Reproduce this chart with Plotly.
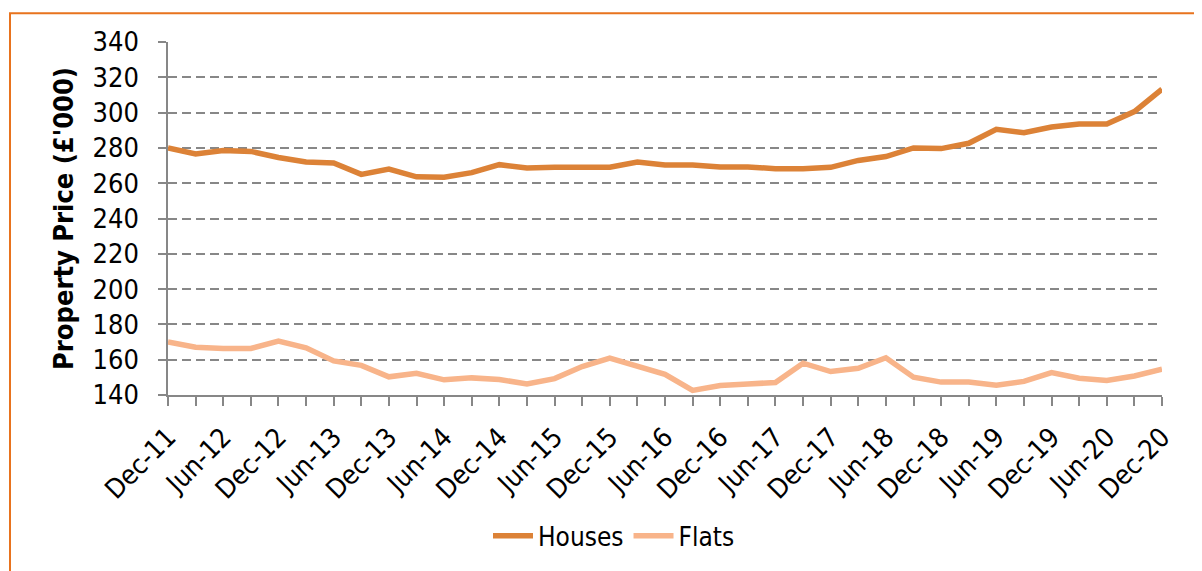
import plotly.graph_objects as go

quarters = ["Dec-11", "Mar-12", "Jun-12", "Sep-12", "Dec-12", "Mar-13", "Jun-13", "Sep-13",
            "Dec-13", "Mar-14", "Jun-14", "Sep-14", "Dec-14", "Mar-15", "Jun-15", "Sep-15",
            "Dec-15", "Mar-16", "Jun-16", "Sep-16", "Dec-16", "Mar-17", "Jun-17", "Sep-17",
            "Dec-17", "Mar-18", "Jun-18", "Sep-18", "Dec-18", "Mar-19", "Jun-19", "Sep-19",
            "Dec-19", "Mar-20", "Jun-20", "Sep-20", "Dec-20"]

houses = [280.0, 276.6, 278.5, 278.0, 274.6, 272.0, 271.5, 265.0, 268.0, 263.6,
          263.4, 266.0, 270.5, 268.6, 269.0, 269.0, 269.0, 272.0, 270.3, 270.3,
          269.2, 269.2, 268.2, 268.2, 269.0, 272.9, 275.1, 280.0, 279.6, 282.6,
          290.5, 288.6, 291.8, 293.6, 293.5, 300.6, 313.3]

flats = [170.1, 167.1, 166.4, 166.4, 170.5, 166.7, 159.3, 156.8, 150.3, 152.3,
         148.6, 149.7, 148.8, 146.2, 149.3, 156.1, 160.9, 156.6, 151.7, 142.6,
         145.4, 146.2, 147.1, 158.0, 153.3, 155.1, 161.1, 150.1, 147.3, 147.3,
         145.6, 147.7, 152.7, 149.5, 148.2, 150.8, 154.6]

y_ticks = [140, 160, 180, 200, 220, 240, 260, 280, 300, 320, 340]

idx = list(range(len(quarters)))
label_idx = idx[::2]
label_text = quarters[::2]

FONT = "DejaVu Sans Condensed, DejaVu Sans, Verdana, sans-serif"
GRAY = "#878787"

fig = go.Figure()
fig.add_trace(go.Scatter(x=idx, y=houses, name="Houses", mode="lines",
                         line=dict(color="#DC8237", width=5.5)))
fig.add_trace(go.Scatter(x=idx, y=flats, name="Flats", mode="lines",
                         line=dict(color="#F8B48A", width=5.5)))

# page body has an 8px margin; figure origin is at (8, 8) in the screenshot
OFF = 8
W, H = 1202 - OFF, 571 - OFF
L, T = 168 - OFF, 42 - OFF
pw, ph = 994, 356
R, B = W - L - pw, H - T - ph

fig.update_layout(
    width=W, height=H,
    margin=dict(l=L, r=R, t=T, b=B, pad=0),
    paper_bgcolor="white", plot_bgcolor="white",
    font=dict(family=FONT, size=27, color="black"),
    showlegend=True,
    legend=dict(orientation="h", x=(614 - OFF - L) / pw, xanchor="center",
                y=(T + ph - (540 - OFF)) / ph, yanchor="middle",
                font=dict(size=26), itemwidth=40, tracegroupgap=0),
    xaxis=dict(
        range=[0, len(quarters) - 1],
        tickmode="array", tickvals=label_idx, ticktext=label_text,
        tickangle=-45, ticks="outside", ticklen=9, tickcolor=GRAY, tickwidth=1.5,
        minor=dict(dtick=1, tick0=0, ticks="outside", ticklen=9, tickcolor=GRAY, tickwidth=1.5),
        showline=True, linecolor=GRAY, linewidth=1.5,
        showgrid=False, zeroline=False,
        tickfont=dict(size=27),
        ticklabelstandoff=5,
    ),
    yaxis=dict(
        range=[140, 340], tickmode="array", tickvals=y_ticks,
        ticks="outside", ticklen=8, tickcolor=GRAY, tickwidth=1.5,
        showline=True, linecolor=GRAY, linewidth=1.5,
        showgrid=True, gridcolor=GRAY, gridwidth=1.5, griddash="9px,5px",
        zeroline=False,
        tickfont=dict(size=27),
        ticklabelstandoff=14,
        title=dict(text="<b>Property Price (£'000)</b>", font=dict(size=27), standoff=11),
    ),
    shapes=[dict(type="rect", xref="paper", yref="paper",
                 x0=(10 - OFF - L) / pw, x1=(W + 10 - L) / pw,
                 y0=(T + ph - (H + 10)) / ph, y1=(T + ph - (13 - OFF)) / ph,
                 line=dict(color="#E8731E", width=2), fillcolor="rgba(0,0,0,0)",
                 layer="below")],
)

fig.write_html("out.html")
